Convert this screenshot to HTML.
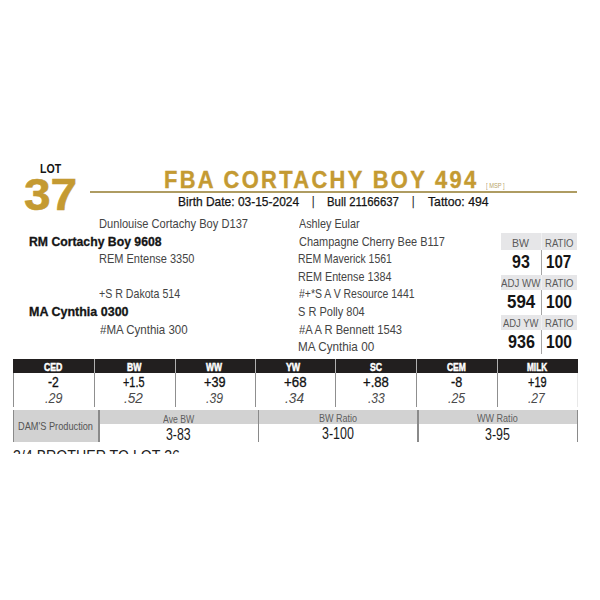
<!DOCTYPE html>
<html><head><meta charset="utf-8">
<style>
*{margin:0;padding:0;box-sizing:border-box}
html,body{width:600px;height:600px;background:#fff;overflow:hidden}
body{position:relative;font-family:"Liberation Sans",Arial,sans-serif}
.a{position:absolute;white-space:nowrap;line-height:1;transform-origin:0 0}
#gline{position:absolute;left:90px;top:190.9px;width:487px;height:1.9px;background:#ae9c62}
.g{position:absolute;background:#e6e6e8}
.vl{position:absolute;width:1px;background:#a5a5a5}
.gs{position:absolute;left:540.5px;width:1px;background:#f1f1f2}
#tbar{position:absolute;left:12.5px;top:359px;width:565px;height:14px;background:#221f1f}
.tg{position:absolute;top:359px;width:1px;height:14px;background:#b0b0b0}
.tl{position:absolute;top:373px;width:1px;height:34px;background:#8f8f8f}
#damg{position:absolute;left:12.5px;top:410px;width:87px;height:32px;background:#d2d2d2}
#damh{position:absolute;left:99.5px;top:410px;width:477.5px;height:13.7px;background:#d2d2d2}
.dl{position:absolute;top:410px;width:1.5px;height:32px;background:#8a8a8a}
#clip{position:absolute;left:0;top:440px;width:600px;height:14.2px;overflow:hidden}
</style></head><body>

<div id="gline"></div>
<div class="g" style="left:501px;top:233px;width:39.5px;height:17px"></div>
<div class="g" style="left:541.5px;top:233px;width:35.5px;height:17px"></div>
<div class="g" style="left:501px;top:274.5px;width:39.5px;height:15.5px"></div>
<div class="g" style="left:541.5px;top:274.5px;width:35.5px;height:15.5px"></div>
<div class="g" style="left:501px;top:314.5px;width:39.5px;height:15.5px"></div>
<div class="g" style="left:541.5px;top:314.5px;width:35.5px;height:15.5px"></div>
<div class="gs" style="top:233px;height:17px"></div>
<div class="gs" style="top:274.5px;height:15.5px"></div>
<div class="gs" style="top:314.5px;height:15.5px"></div>
<div class="vl" style="left:541px;top:250px;height:24.5px"></div>
<div class="vl" style="left:541px;top:290px;height:24.5px"></div>
<div class="vl" style="left:541px;top:330px;height:24px"></div>
<div id="tbar"></div>
<div class="tg" style="left:93.5px"></div>
<div class="tg" style="left:174.5px"></div>
<div class="tg" style="left:255px"></div>
<div class="tg" style="left:335px"></div>
<div class="tg" style="left:415.5px"></div>
<div class="tg" style="left:496.5px"></div>
<div class="tl" style="left:12.5px"></div>
<div class="tl" style="left:93.5px"></div>
<div class="tl" style="left:174.5px"></div>
<div class="tl" style="left:255px"></div>
<div class="tl" style="left:335px"></div>
<div class="tl" style="left:415.5px"></div>
<div class="tl" style="left:496.5px"></div>
<div class="tl" style="left:577px;background:#e8e8e8"></div>
<div id="damg"></div>
<div id="damh"></div>
<div class="dl" style="left:12.5px"></div>
<div class="dl" style="left:98px;width:2px"></div>
<div class="dl" style="left:257.5px"></div>
<div class="dl" style="left:417px"></div>
<div class="dl" style="left:576.5px"></div>
<div class="a" id="lot" style="left:39.99px;top:161.65px;font-size:13.2px;font-weight:bold;color:#151515;transform:scaleX(0.8014)">LOT</div>
<div class="a" id="num" style="left:24.17px;top:172.15px;font-size:45px;font-weight:bold;color:#c49a32;-webkit-text-stroke:0.6px #c49a32;transform:scaleX(1.0636)">37</div>
<div class="a" id="title" style="left:163.82px;top:167.62px;font-size:24.6px;font-weight:bold;letter-spacing:2.6px;color:#c49a32;-webkit-text-stroke:0.4px #c49a32;transform:scaleX(0.8910)">FBA CORTACHY BOY 494</div>
<div class="a" id="msp" style="left:486.27px;top:182.95px;font-size:6.5px;color:#b8a468;transform:scaleX(0.8812)">[ MSP ]</div>
<div class="a" id="s1" style="left:177.99px;top:196.12px;font-size:12.2px;color:#141414;-webkit-text-stroke:0.25px #141414;transform:scaleX(0.9826)">Birth Date: 03-15-2024</div>
<div class="a" id="s2" style="left:312.23px;top:194.01px;font-size:12.2px;color:#141414;-webkit-text-stroke:0.25px #141414;font-size:13.5px;transform:scaleX(0.6809)">|</div>
<div class="a" id="s3" style="left:327.07px;top:195.80px;font-size:12.2px;color:#141414;-webkit-text-stroke:0.25px #141414;transform:scaleX(0.9333)">Bull 21166637</div>
<div class="a" id="s4" style="left:412.23px;top:194.01px;font-size:12.2px;color:#141414;-webkit-text-stroke:0.25px #141414;font-size:13.5px;transform:scaleX(0.6809)">|</div>
<div class="a" id="s5" style="left:428.11px;top:195.87px;font-size:12.2px;color:#141414;-webkit-text-stroke:0.25px #141414;transform:scaleX(1.0053)">Tattoo: 494</div>
<div class="a" id="p1" style="left:99.03px;top:218.37px;font-size:12.6px;color:#444;transform:scaleX(0.8832)">Dunlouise Cortachy Boy D137</div>
<div class="a" id="p2" style="left:28.59px;top:235.85px;font-size:12.6px;font-weight:bold;color:#151515;-webkit-text-stroke:0.3px #151515;transform:scaleX(0.9711)">RM Cortachy Boy 9608</div>
<div class="a" id="p3" style="left:98.59px;top:252.71px;font-size:12.6px;color:#444;transform:scaleX(0.8742)">REM Entense 3350</div>
<div class="a" id="p4" style="left:98.57px;top:288.25px;font-size:12.6px;color:#444;transform:scaleX(0.8425)">+S R Dakota 514</div>
<div class="a" id="p5" style="left:29.12px;top:306.25px;font-size:12.6px;font-weight:bold;color:#151515;-webkit-text-stroke:0.3px #151515;transform:scaleX(0.9926)">MA Cynthia 0300</div>
<div class="a" id="p6" style="left:99.83px;top:323.81px;font-size:12.6px;color:#444;transform:scaleX(0.9142)">#MA Cynthia 300</div>
<div class="a" id="r1" style="left:299.00px;top:218.13px;font-size:12.6px;color:#444;transform:scaleX(0.8567)">Ashley Eular</div>
<div class="a" id="r2" style="left:298.50px;top:235.77px;font-size:12.6px;color:#444;transform:scaleX(0.8695)">Champagne Cherry Bee B117</div>
<div class="a" id="r3" style="left:298.08px;top:253.37px;font-size:12.6px;color:#444;transform:scaleX(0.8270)">REM Maverick 1561</div>
<div class="a" id="r4" style="left:298.28px;top:270.75px;font-size:12.6px;color:#444;transform:scaleX(0.8557)">REM Entense 1384</div>
<div class="a" id="r5" style="left:299.00px;top:287.75px;font-size:12.6px;color:#444;transform:scaleX(0.8317)">#+*S A V Resource 1441</div>
<div class="a" id="r6" style="left:298.19px;top:306.13px;font-size:12.6px;color:#444;transform:scaleX(0.8748)">S R Polly 804</div>
<div class="a" id="r7" style="left:299.00px;top:323.75px;font-size:12.6px;color:#444;transform:scaleX(0.8868)">#A A R Bennett 1543</div>
<div class="a" id="r8" style="left:297.87px;top:341.37px;font-size:12.6px;color:#444;transform:scaleX(0.9299)">MA Cynthia 00</div>
<div class="a" id="h1" style="left:512.36px;top:237.85px;font-size:11.8px;color:#5a5a5a;transform:scaleX(0.8947)">BW</div>
<div class="a" id="h2" style="left:544.73px;top:237.69px;font-size:11.8px;color:#5a5a5a;transform:scaleX(0.8099)">RATIO</div>
<div class="a" id="v1" style="left:511.95px;top:252.01px;font-size:19px;font-weight:bold;color:#151515;transform:scaleX(0.8422)">93</div>
<div class="a" id="v2" style="left:546.20px;top:252.01px;font-size:19px;font-weight:bold;color:#151515;transform:scaleX(0.7976)">107</div>
<div class="a" id="h3" style="left:501.02px;top:277.93px;font-size:11.8px;color:#5a5a5a;transform:scaleX(0.8216)">ADJ WW</div>
<div class="a" id="h4" style="left:544.73px;top:278.01px;font-size:11.8px;color:#5a5a5a;transform:scaleX(0.8099)">RATIO</div>
<div class="a" id="v3" style="left:506.75px;top:292.41px;font-size:19px;font-weight:bold;color:#151515;transform:scaleX(0.8920)">594</div>
<div class="a" id="v4" style="left:545.89px;top:292.41px;font-size:19px;font-weight:bold;color:#151515;transform:scaleX(0.8211)">100</div>
<div class="a" id="h5" style="left:503.04px;top:318.01px;font-size:11.8px;color:#5a5a5a;transform:scaleX(0.8007)">ADJ YW</div>
<div class="a" id="h6" style="left:544.73px;top:318.01px;font-size:11.8px;color:#5a5a5a;transform:scaleX(0.8099)">RATIO</div>
<div class="a" id="v5" style="left:508.20px;top:332.25px;font-size:19px;font-weight:bold;color:#151515;transform:scaleX(0.8486)">936</div>
<div class="a" id="v6" style="left:545.89px;top:332.41px;font-size:19px;font-weight:bold;color:#151515;transform:scaleX(0.8211)">100</div>
<div class="a" id="th0" style="left:43.85px;top:362.00px;font-size:11px;font-weight:bold;color:#fff;-webkit-text-stroke:0.5px #fff;transform:scaleX(0.7921)">CED</div>
<div class="a" id="th1" style="left:126.90px;top:361.72px;font-size:11px;font-weight:bold;color:#fff;-webkit-text-stroke:0.5px #fff;transform:scaleX(0.7857)">BW</div>
<div class="a" id="th2" style="left:205.55px;top:361.55px;font-size:11px;font-weight:bold;color:#fff;-webkit-text-stroke:0.5px #fff;transform:scaleX(0.7719)">WW</div>
<div class="a" id="th3" style="left:286.44px;top:361.72px;font-size:11px;font-weight:bold;color:#fff;-webkit-text-stroke:0.5px #fff;transform:scaleX(0.7994)">YW</div>
<div class="a" id="th4" style="left:369.70px;top:361.60px;font-size:11px;font-weight:bold;color:#fff;-webkit-text-stroke:0.5px #fff;transform:scaleX(0.7919)">SC</div>
<div class="a" id="th5" style="left:446.58px;top:361.96px;font-size:11px;font-weight:bold;color:#fff;-webkit-text-stroke:0.5px #fff;transform:scaleX(0.7709)">CEM</div>
<div class="a" id="th6" style="left:526.76px;top:361.74px;font-size:11px;font-weight:bold;color:#fff;-webkit-text-stroke:0.5px #fff;transform:scaleX(0.7485)">MILK</div>
<div class="a" id="tv0" style="left:47.94px;top:375.48px;font-size:14px;color:#111;-webkit-text-stroke:0.3px #111;transform:scaleX(0.8644)">-2</div>
<div class="a" id="tv1" style="left:122.79px;top:375.23px;font-size:14px;color:#111;-webkit-text-stroke:0.3px #111;transform:scaleX(0.7759)">+1.5</div>
<div class="a" id="tv2" style="left:203.88px;top:374.92px;font-size:14px;color:#111;-webkit-text-stroke:0.3px #111;transform:scaleX(0.9047)">+39</div>
<div class="a" id="tv3" style="left:284.28px;top:374.84px;font-size:14px;color:#111;-webkit-text-stroke:0.3px #111;transform:scaleX(0.9478)">+68</div>
<div class="a" id="tv4" style="left:363.36px;top:374.84px;font-size:14px;color:#111;-webkit-text-stroke:0.3px #111;transform:scaleX(0.9351)">+.88</div>
<div class="a" id="tv5" style="left:450.50px;top:374.84px;font-size:14px;color:#111;-webkit-text-stroke:0.3px #111;transform:scaleX(0.8993)">-8</div>
<div class="a" id="tv6" style="left:527.94px;top:375.48px;font-size:14px;color:#111;-webkit-text-stroke:0.3px #111;transform:scaleX(0.7823)">+19</div>
<div class="a" id="ta0" style="left:44.68px;top:389.95px;font-size:15.5px;font-style:italic;color:#4a4a4a;transform:scaleX(0.8062)">.29</div>
<div class="a" id="ta1" style="left:123.61px;top:390.27px;font-size:15.5px;font-style:italic;color:#4a4a4a;transform:scaleX(0.8783)">.52</div>
<div class="a" id="ta2" style="left:206.25px;top:390.11px;font-size:15.5px;font-style:italic;color:#4a4a4a;transform:scaleX(0.7848)">.39</div>
<div class="a" id="ta3" style="left:284.95px;top:390.11px;font-size:15.5px;font-style:italic;color:#4a4a4a;transform:scaleX(0.8804)">.34</div>
<div class="a" id="ta4" style="left:367.87px;top:390.27px;font-size:15.5px;font-style:italic;color:#4a4a4a;transform:scaleX(0.7804)">.33</div>
<div class="a" id="ta5" style="left:447.81px;top:389.95px;font-size:15.5px;font-style:italic;color:#4a4a4a;transform:scaleX(0.7900)">.25</div>
<div class="a" id="ta6" style="left:527.75px;top:389.95px;font-size:15.5px;font-style:italic;color:#4a4a4a;transform:scaleX(0.7827)">.27</div>
<div class="a" id="dam" style="left:18.03px;top:420.77px;font-size:11.5px;color:#555;transform:scaleX(0.8011)">DAM'S Production</div>
<div class="a" id="d1" style="left:162.78px;top:413.54px;font-size:10.8px;color:#5e5e5e;transform:scaleX(0.8037)">Ave BW</div>
<div class="a" id="d2" style="left:318.70px;top:413.23px;font-size:10.8px;color:#5e5e5e;transform:scaleX(0.8361)">BW Ratio</div>
<div class="a" id="d3" style="left:477.47px;top:413.23px;font-size:10.8px;color:#5e5e5e;transform:scaleX(0.8369)">WW Ratio</div>
<div class="a" id="e1" style="left:166.23px;top:425.67px;font-size:17px;color:#1a1a1a;transform:scaleX(0.7243)">3-83</div>
<div class="a" id="e2" style="left:322.02px;top:425.37px;font-size:17px;color:#1a1a1a;transform:scaleX(0.7317)">3-100</div>
<div class="a" id="e3" style="left:485.33px;top:425.60px;font-size:17px;color:#1a1a1a;transform:scaleX(0.7311)">3-95</div>
<div id="clip"><div class="a" id="bro" style="left:12.75px;top:7.52px;font-size:16.5px;color:#222;transform:scaleX(0.8588)">3/4 BROTHER TO LOT 36</div></div>
</body></html>
